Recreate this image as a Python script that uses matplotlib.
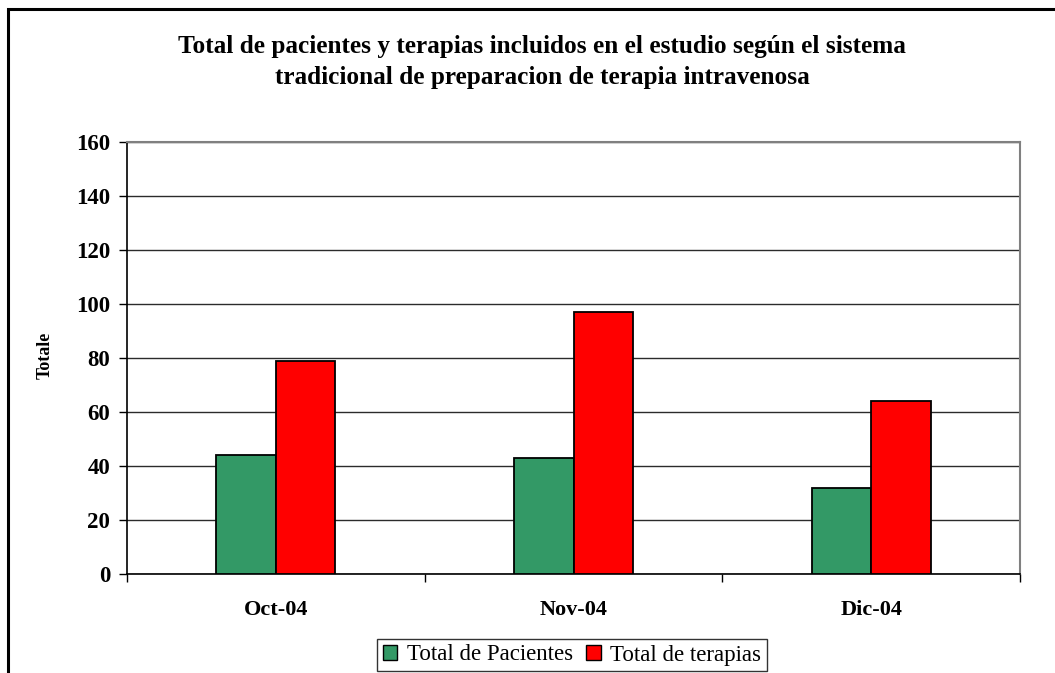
import numpy as np
import matplotlib.pyplot as plt
from matplotlib.patches import Rectangle, Patch

# ----------------------------
# Data
# ----------------------------
meses = ["Oct-04", "Nov-04", "Dic-04"]
pacientes = [44, 43, 32]
terapias = [79, 97, 64]

titulo = ("Total de pacientes y terapias incluidos en el estudio según el sistema\n"
          "tradicional de preparacion de terapia intravenosa")

verde = "#339966"
rojo = "#FF0000"

plt.rcParams["font.family"] = ["Liberation Serif", "DejaVu Serif"]

W, H = 1055, 673
fig = plt.figure(figsize=(W / 100, H / 100), dpi=100)

# outer frame (runs off the right and bottom edges)
fig.patches.append(Rectangle((8 / W, -0.1), 1.2, (H - 9) / H + 0.1,
                             transform=fig.transFigure, fill=False,
                             edgecolor="black", linewidth=2.2))

ax = fig.add_axes([127 / W, (H - 574) / H, 893 / W, 432 / H])

x = np.arange(len(meses))
bw = 0.2
ax.bar(x - bw / 2, pacientes, bw, color=verde, edgecolor="black", linewidth=1.3, zorder=3)
ax.bar(x + bw / 2, terapias, bw, color=rojo, edgecolor="black", linewidth=1.3, zorder=3)

ax.set_xlim(-0.5, len(meses) - 0.5)
ax.set_ylim(0, 160)
ax.set_yticks(np.arange(0, 161, 20))
ax.yaxis.grid(True, color="#2b2b2b", linewidth=1.0, zorder=0)
ax.set_axisbelow(True)

ax.set_xticks(np.arange(-0.5, len(meses), 1.0))
ax.set_xticklabels([])
ax.set_xticks(x, minor=True)
ax.set_xticklabels(meses, minor=True, fontsize=16, fontweight="bold")
ax.tick_params(axis="x", which="major", direction="out", length=6, width=1)
ax.tick_params(axis="x", which="minor", length=0, pad=19)
ax.tick_params(axis="y", direction="out", length=6, width=1, pad=6,
               labelsize=16.5)
for lab in ax.get_yticklabels():
    lab.set_fontweight("bold")

for s in ["left", "bottom"]:
    ax.spines[s].set_color("black")
    ax.spines[s].set_linewidth(1.2)
for s in ["top", "right"]:
    ax.spines[s].set_color("#808080")
    ax.spines[s].set_linewidth(1.5)

fig.text(542 / W, 1 - 62 / H, titulo, ha="center", va="center",
         fontsize=18.2, fontweight="bold", linespacing=1.45)
fig.text(45 / W, 1 - 355 / H, "Totale", rotation=90, ha="center", va="center",
         fontsize=13, fontweight="bold")

handles = [Patch(facecolor=verde, edgecolor="black"),
           Patch(facecolor=rojo, edgecolor="black")]
leg = fig.legend(handles, ["Total de Pacientes", "Total de terapias"],
                 loc="center", bbox_to_anchor=(572 / W, 1 - 655 / H),
                 ncol=2, fontsize=16.5, frameon=True, fancybox=False,
                 handlelength=0.65, handleheight=0.65, handletextpad=0.4,
                 columnspacing=0.6, borderpad=0.25, borderaxespad=0)
leg.get_frame().set_edgecolor("black")
leg.get_frame().set_linewidth(1.0)

fig.savefig("out.png", dpi=100)
